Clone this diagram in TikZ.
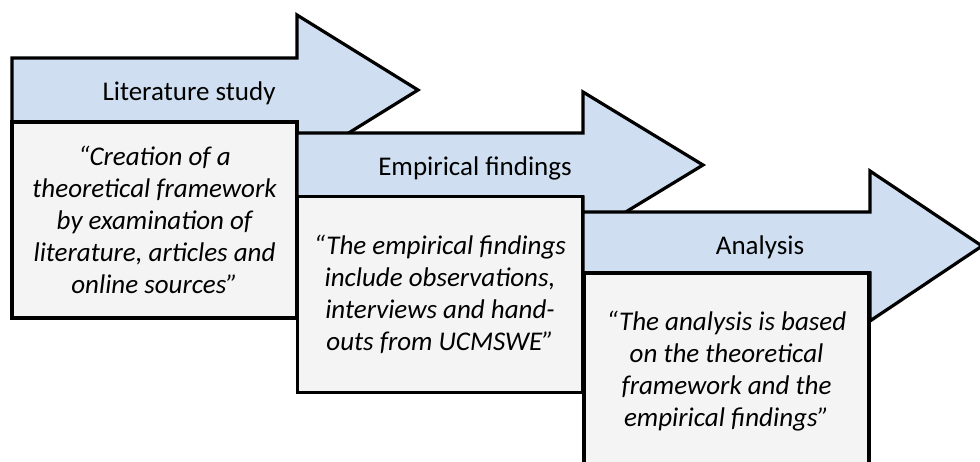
\documentclass[tikz,border=0pt]{standalone}
\usepackage{fontspec}
\setmainfont{Carlito}
\definecolor{arrowblue}{RGB}{207,223,241}
\definecolor{boxgrey}{RGB}{244,244,244}
\tikzset{
  stagearrow/.style={fill=arrowblue, draw=black, line width=3.2pt, line join=miter, miter limit=10},
  stagebox/.style={rectangle, fill=boxgrey, draw=black, line width=3.2pt,
    minimum width=285pt, minimum height=196pt, inner sep=0pt, align=center,
    font=\fontsize{27}{32}\selectfont\itshape},
  stagetitle/.style={inner sep=0pt, font=\fontsize{27}{30}\selectfont}
}
\begin{document}
\begin{tikzpicture}[x=1pt, y=-1pt]
\useasboundingbox (0,0) rectangle (980,462);
\clip (0,0) rectangle (980,462);

% stage 1: literature study
\draw[stagearrow] (12,58) -- (297,58) -- (297,15) -- (418,90) -- (297,165)
  -- (297,122) -- (12,122) -- cycle;
\node[stagetitle] (t1) at (189,93) {Literature study};
\node[stagebox] (b1) at (154.5,220) {“Creation of a\\theoretical framework\\by examination of\\literature, articles and\\online sources”};

% stage 2: empirical findings
\draw[stagearrow] (297,133) -- (583,133) -- (583,92) -- (703,165) -- (583,238)
  -- (583,197) -- (297,197) -- cycle;
\node[stagetitle] (t2) at (475,168) {Empirical findings};
\node[stagebox] (b2) at (440,294.5) {“The empirical findings\\include observations,\\interviews and hand-\\outs from UCMSWE”};

% stage 3: analysis
\draw[stagearrow] (583,212) -- (870,212) -- (870,171) -- (982,246) -- (870,321)
  -- (870,273) -- (583,273) -- cycle;
\node[stagetitle] (t3) at (760,247) {Analysis};
\node[stagebox] (b3) at (726.5,371) {“The analysis is based\\on the theoretical\\framework and the\\empirical findings”};
\end{tikzpicture}
\end{document}
